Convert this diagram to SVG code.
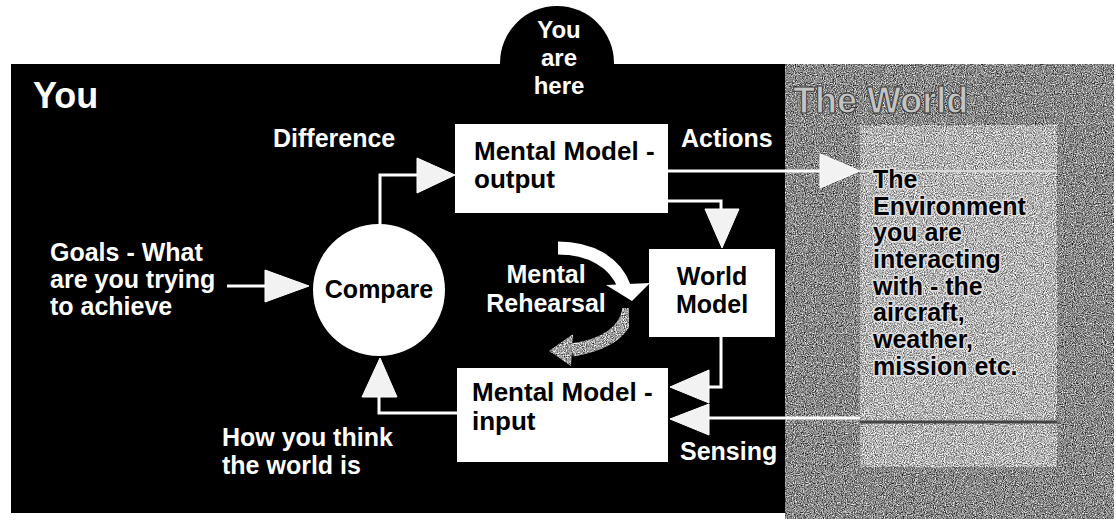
<svg xmlns="http://www.w3.org/2000/svg" width="1116" height="524" viewBox="0 0 1116 524">
<defs>
<style>
.lbl{font-family:"Liberation Sans",Arial,sans-serif;font-weight:bold;font-size:25px;fill:#fff}
.blk{font-family:"Liberation Sans",Arial,sans-serif;font-weight:bold;font-size:25px;fill:#000}
.env{font-family:"Liberation Sans",Arial,sans-serif;font-weight:bold;font-size:25px;fill:#000;stroke:#e0e0e0;stroke-width:3;paint-order:stroke;stroke-linejoin:round}
.wire{fill:none;stroke:#fff;stroke-width:3}
.head{fill:#f2f2f2;stroke:#fff;stroke-width:1}
.node{fill:#fff}
</style>
<filter id="darknoise" x="0" y="0" width="100%" height="100%" color-interpolation-filters="sRGB">
<feTurbulence type="fractalNoise" baseFrequency="0.9" numOctaves="2" seed="4" result="n"/>
<feColorMatrix in="n" type="matrix" values="1.4 0 0 0 -0.17  1.4 0 0 0 -0.17  1.4 0 0 0 -0.17  0 0 0 0 1" result="g"/>
<feComposite in="g" in2="SourceGraphic" operator="in"/>
</filter>
<filter id="lightnoise" x="0" y="0" width="100%" height="100%" color-interpolation-filters="sRGB">
<feTurbulence type="fractalNoise" baseFrequency="0.9" numOctaves="2" seed="9" result="n"/>
<feColorMatrix in="n" type="matrix" values="1.4 0 0 0 0  1.4 0 0 0 0  1.4 0 0 0 0  0 0 0 0 1" result="g"/>
<feComposite in="g" in2="SourceGraphic" operator="in"/>
</filter>
<filter id="arrownoise" x="0" y="0" width="100%" height="100%" color-interpolation-filters="sRGB">
<feTurbulence type="fractalNoise" baseFrequency="0.9" numOctaves="2" seed="2" result="n"/>
<feColorMatrix in="n" type="matrix" values="1.5 0 0 0 -0.12  1.5 0 0 0 -0.12  1.5 0 0 0 -0.12  0 0 0 0 1" result="g"/>
<feComposite in="g" in2="SourceGraphic" operator="in"/>
</filter>
</defs>
<rect width="1116" height="524" fill="#fff"/>

<g id="panel-you">
<rect x="11" y="64" width="776" height="449" fill="#000"/>
<text class="lbl" x="33" y="108" style="font-size:36px">You</text>
</g>

<g id="panel-world">
<rect x="785" y="64" width="329" height="455" fill="#7a7a7a" filter="url(#darknoise)"/>
<text x="793" y="113" style="font-family:'Liberation Sans',Arial,sans-serif;font-weight:bold;font-size:36px;fill:#c4c4c4;stroke:#3a3a3a;stroke-width:1">The World</text>
</g>

<g id="bubble">
<circle cx="557" cy="63" r="57" fill="#000"/>
<text class="lbl" x="559" y="38" text-anchor="middle" style="font-size:24px">You</text>
<text class="lbl" x="559" y="66" text-anchor="middle" style="font-size:24px">are</text>
<text class="lbl" x="559" y="94" text-anchor="middle" style="font-size:24px">here</text>
</g>

<g id="environment">
<rect x="860" y="125" width="197" height="342" fill="#b0b0b0" filter="url(#lightnoise)"/>
<line x1="860" y1="171" x2="1057" y2="171" stroke="#d8d8d8" stroke-width="2"/>
<line x1="860" y1="422" x2="1057" y2="422" stroke="#444" stroke-width="3"/>
<text class="env" x="873" y="188">The</text>
<text class="env" x="873" y="215">Environment</text>
<text class="env" x="873" y="241">you are</text>
<text class="env" x="873" y="268">interacting</text>
<text class="env" x="873" y="295">with - the</text>
<text class="env" x="873" y="321">aircraft,</text>
<text class="env" x="873" y="348">weather,</text>
<text class="env" x="873" y="375">mission etc.</text>
</g>

<g id="compare">
<circle class="node" cx="379" cy="290" r="66"/>
<text class="blk" x="379" y="298" text-anchor="middle">Compare</text>
</g>

<g id="output">
<rect class="node" x="455" y="124" width="213" height="89"/>
<text class="blk" x="474" y="160" style="font-size:26px">Mental Model -</text>
<text class="blk" x="474" y="188" style="font-size:26px">output</text>
</g>

<g id="worldmodel">
<rect class="node" x="649" y="249" width="126" height="88"/>
<text class="blk" x="712" y="285" text-anchor="middle">World</text>
<text class="blk" x="712" y="313" text-anchor="middle">Model</text>
</g>

<g id="input">
<rect class="node" x="457" y="368" width="211" height="94"/>
<text class="blk" x="472" y="401" style="font-size:26px">Mental Model -</text>
<text class="blk" x="472" y="430" style="font-size:26px">input</text>
</g>

<g id="connectors">
<line class="wire" x1="227" y1="286" x2="267" y2="286"/>
<polygon class="head" points="265,270 265,302 309,286"/>
<polyline class="wire" points="380,225 380,175 419,175"/>
<polygon class="head" points="417,158 417,193 455,175"/>
<line class="wire" x1="668" y1="171" x2="822" y2="171"/>
<polygon class="head" points="820,154 820,188 860,171"/>
<polyline class="wire" points="668,201 721,201 721,211"/>
<polygon class="head" points="705,209 739,209 722,248"/>
<polyline class="wire" points="721,337 721,387 707,387"/>
<polygon class="head" points="709,370 709,403 670,387"/>
<line class="wire" x1="860" y1="418" x2="707" y2="418"/>
<polygon class="head" points="709,404 709,435 670,419"/>
<polyline class="wire" points="457,413 379,413 379,395"/>
<polygon class="head" points="362,397 397,397 380,358"/>
<path d="M 558 248 C 590 248 615 262 624 286" fill="none" stroke="#fff" stroke-width="13"/>
<polygon points="606,285 650,283 632,301" fill="#fff"/>
<g filter="url(#arrownoise)">
<path d="M 629 308 C 626 332 605 345 572 350" fill="none" stroke="#a0a0a0" stroke-width="13"/>
<polygon points="573,334 571,366 549,351" fill="#a0a0a0"/>
</g>
</g>

<g id="labels">
<text class="lbl" x="273" y="147">Difference</text>
<text class="lbl" x="681" y="147">Actions</text>
<text class="lbl" x="50" y="261">Goals - What</text>
<text class="lbl" x="50" y="288">are you trying</text>
<text class="lbl" x="50" y="315">to achieve</text>
<text class="lbl" x="546" y="283" text-anchor="middle">Mental</text>
<text class="lbl" x="546" y="312" text-anchor="middle">Rehearsal</text>
<text class="lbl" x="222" y="446">How you think</text>
<text class="lbl" x="222" y="474">the world is</text>
<text class="lbl" x="680" y="460">Sensing</text>
</g>
</svg>
